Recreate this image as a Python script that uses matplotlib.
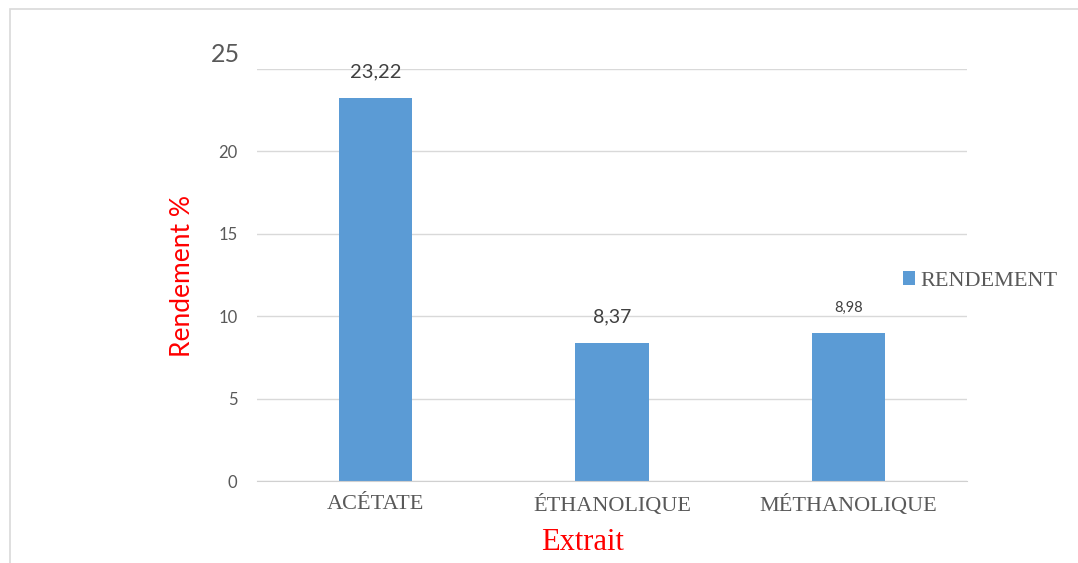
import matplotlib.pyplot as plt
import matplotlib.transforms as mtransforms
from matplotlib.patches import Rectangle

# Rendement des extraits
extraits = ['ACÉTATE', 'ÉTHANOLIQUE', 'MÉTHANOLIQUE']
rendement = [23.22, 8.37, 8.98]
etiquettes = ['23,22', '8,37', '8,98']
taille_etiq = [14.5, 14, 10.5]
yticks = [0, 5, 10, 15, 20, 25]

bleu = '#5b9bd5'
gris = '#595959'

fig = plt.figure(figsize=(10.78, 5.63), dpi=100)
ax = fig.add_axes([257 / 1078, 1 - 481 / 563, 710 / 1078, 412 / 563])

# cadre du graphique
fig.patches.append(Rectangle((10 / 1078, -0.1), 1.2, 1 - 9 / 563 + 0.1,
                             transform=fig.transFigure, fill=False,
                             edgecolor='#d9d9d9', linewidth=1.2))

x = range(len(extraits))
bars = ax.bar(x, rendement, width=0.31, color=bleu, label='RENDEMENT', zorder=2)

for b, txt, fs in zip(bars, etiquettes, taille_etiq):
    ax.annotate(txt, (b.get_x() + b.get_width() / 2, b.get_height()),
                xytext=(0, 13), textcoords='offset points', ha='center',
                va='bottom', fontsize=fs, color='#404040', family='Lato')

ax.set_xlim(-0.5, 2.5)
ax.set_ylim(0, 25)
ax.set_yticks(yticks)
ax.set_yticklabels([str(t) for t in yticks], family='Lato', color=gris, fontsize=12)
ax.tick_params(axis='both', length=0, pad=14)
ax.tick_params(axis='x', pad=10)

# le 25 est plus grand et décalé vers le haut
top = ax.get_yticklabels()[-1]
top.set_fontsize(18)
top.set_transform(top.get_transform() +
                  mtransforms.ScaledTranslation(2 / 100, 16 / 100, fig.dpi_scale_trans))

ax.set_xticks(list(x))
ax.set_xticklabels(extraits, family='Liberation Serif', color=gris, fontsize=16)

ax.grid(axis='y', color='#d9d9d9', linewidth=1, zorder=0)
for s in ['top', 'right', 'left']:
    ax.spines[s].set_visible(False)
ax.spines['bottom'].set_color('#d0d0d0')

ax.set_xlabel('Extrait', family='Liberation Serif', color='red', fontsize=22)
ax.xaxis.set_label_coords((583 - 257) / 710, -(543 - 481) / 412)
ax.xaxis.label.set_va('center')
ax.set_ylabel('Rendement %', family='Lato', color='red', fontsize=19)
ax.yaxis.set_label_coords(-(257 - 183) / 710, (481 - 276) / 412)
ax.yaxis.label.set_va('center')

ax.legend(loc='center left', bbox_to_anchor=((903 - 257) / 710, 0.485), frameon=False,
          handlelength=0.55, handleheight=0.55, handletextpad=0.25,
          borderaxespad=0, borderpad=0,
          prop={'family': 'Liberation Serif', 'size': 16}, labelcolor=gris)

fig.savefig('out.png', dpi=100)
